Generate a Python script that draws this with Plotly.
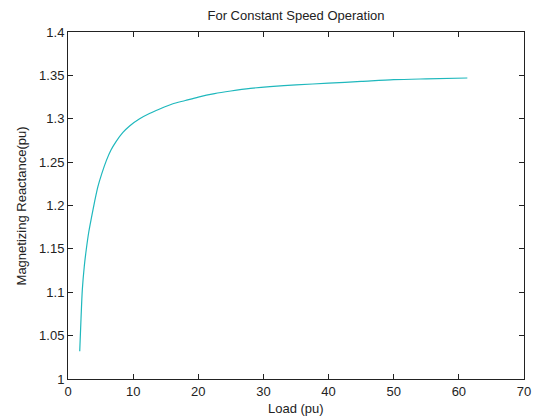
import plotly.graph_objects as go

load_pu = [1.8, 2.0, 2.2, 2.5, 2.8, 3.2, 3.6, 4.1, 4.6, 5.2, 5.9, 6.6, 7.4, 8.4, 9.5,
           11, 12.5, 14, 16, 18, 20, 22.5, 25, 28, 31, 35, 40, 45, 50, 55, 61.3]
reactance_pu = [1.032, 1.07, 1.103, 1.13, 1.149, 1.17, 1.186, 1.205, 1.222, 1.237, 1.252,
                1.264, 1.274, 1.284, 1.292, 1.300, 1.306, 1.311, 1.317, 1.321, 1.325,
                1.329, 1.332, 1.335, 1.337, 1.339, 1.341, 1.343, 1.345, 1.346, 1.347]

x_ticks = [0, 10, 20, 30, 40, 50, 60, 70]
x_tick_labels = ["0", "10", "20", "30", "40", "50", "60", "70"]
y_ticks = [1.0, 1.05, 1.1, 1.15, 1.2, 1.25, 1.3, 1.35, 1.4]
y_tick_labels = ["1", "1.05", "1.1", "1.15", "1.2", "1.25", "1.3", "1.35", "1.4"]

FONT = "Liberation Sans, Arial, sans-serif"

fig = go.Figure()
fig.add_trace(go.Scatter(x=load_pu, y=reactance_pu, mode="lines",
                         line=dict(color="#1fb8bd", width=1.2, shape="spline", smoothing=0.8),
                         showlegend=False, hoverinfo="skip"))

axis_common = dict(showgrid=False, zeroline=False, showline=True, linecolor="#222",
                   linewidth=1, mirror="ticks", ticks="inside", ticklen=5,
                   tickcolor="#222", tickwidth=1, automargin=False,
                   ticklabeloverflow="allow",
                   tickfont=dict(family=FONT, size=13, color="#222"))

fig.update_xaxes(range=[0, 70], tickvals=x_ticks, ticktext=x_tick_labels, **axis_common)
fig.update_yaxes(range=[1.0, 1.4], tickvals=y_ticks, ticktext=y_tick_labels, **axis_common)

fig.update_layout(
    width=534, height=418,
    margin=dict(l=68, r=10, t=32, b=39),
    paper_bgcolor="white", plot_bgcolor="white",
    title=dict(text="For Constant Speed Operation", xref="paper", x=0.5, xanchor="center",
               y=0.964, yanchor="middle",
               font=dict(family=FONT, size=13, color="#222")),
    annotations=[
        dict(text="Load (pu)", xref="paper", yref="paper", x=0.5, y=-0.084,
             xanchor="center", yanchor="middle", showarrow=False,
             font=dict(family=FONT, size=13, color="#222")),
        dict(text="Magnetizing Reactance(pu)", xref="paper", yref="paper", x=-0.101, y=0.5,
             xanchor="center", yanchor="middle", showarrow=False, textangle=-90,
             font=dict(family=FONT, size=13, color="#222")),
    ],
)

fig.write_html("out.html",
               config={"displayModeBar": False},
               post_script="document.body.style.margin='0';document.body.style.overflow='hidden';")
